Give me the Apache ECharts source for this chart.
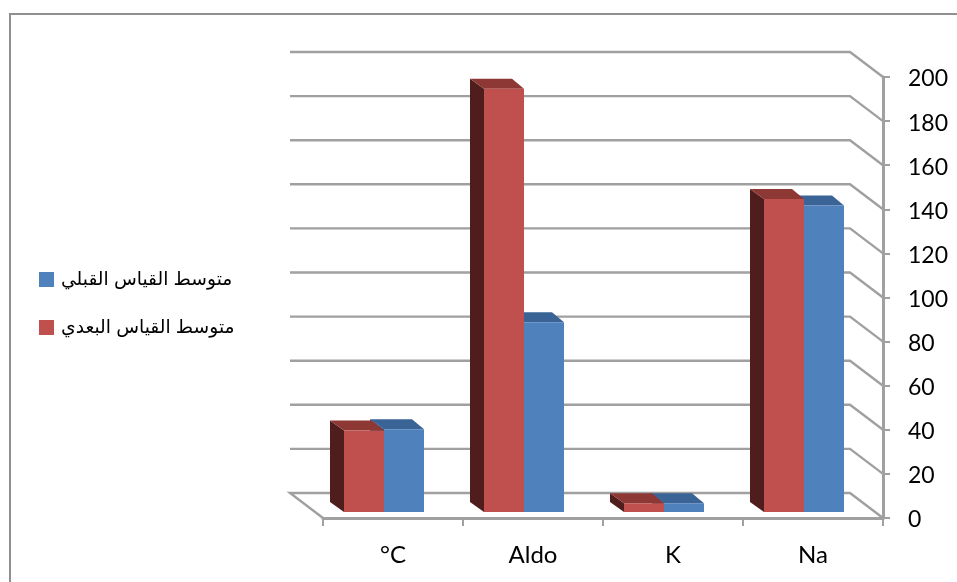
<!DOCTYPE html>
<html>
<head>
<meta charset="utf-8">
<style>
  html, body { margin: 0; padding: 0; background: #fff; }
  #chart { width: 957px; height: 582px; }
</style>
<script src="https://cdn.jsdelivr.net/npm/echarts@6/dist/echarts.min.js"></script>
</head>
<body>
<div id="chart"></div>
<script>
// Measurements per analyte
const categories = ['°C', 'Aldo', 'K', 'Na'];
const preName = 'متوسط القياس القبلي';
const postName = 'متوسط القياس البعدي';
const preValues = [37.5, 86, 4, 139];
const postValues = [37, 192, 4, 142];
const valueTicks = [0, 20, 40, 60, 80, 100, 120, 140, 160, 180, 200];

const GRID_GREY = '#a0a0a0';
const WALL_DX = -33, WALL_DY = -25;     // back wall offset from the front plane
const BAR_INSET_X = -9, BAR_INSET_Y = -6; // bar front face sits slightly behind the axis
const BAR_DX = -14, BAR_DY = -10;       // depth of one bar
const BAR_BAND_RATIO = 40 / 140;

// Gridline wrapping from the value axis across the back wall
function renderWall(params, api) {
  const cs = params.coordSys;
  const v = api.value(1);
  const y = api.coord([0, v])[1];
  const right = cs.x + cs.width;
  const left = cs.x + WALL_DX;
  const pts = [[right, y], [right + WALL_DX, y + WALL_DY], [left, y + WALL_DY]];
  if (v === 0) pts.push([cs.x, y]);
  return {
    type: 'polyline',
    shape: { points: pts },
    style: { stroke: GRID_GREY, lineWidth: 2.4, fill: 'none' }
  };
}

// Box-shaped column: side, top and front faces; slot places it left of or at the band centre
function boxRenderer(slot, front, top, side) {
  return function (params, api) {
    const i = api.value(0);
    const top0 = api.coord([i, api.value(1)]);
    const base = api.coord([i, 0]);
    const w = api.size([1, 0])[0] * BAR_BAND_RATIO;
    const x0 = top0[0] + BAR_INSET_X + slot * w;
    const x1 = x0 + w;
    const yT = top0[1] + BAR_INSET_Y;
    const yB = base[1] + BAR_INSET_Y;
    const poly = (points, fill) => ({
      type: 'polygon',
      shape: { points },
      style: { fill, stroke: null }
    });
    return {
      type: 'group',
      children: [
        poly([[x0, yB], [x0 + BAR_DX, yB + BAR_DY], [x0 + BAR_DX, yT + BAR_DY], [x0, yT]], side),
        poly([[x0, yT], [x1, yT], [x1 + BAR_DX + 2, yT + BAR_DY], [x0 + BAR_DX, yT + BAR_DY]], top),
        poly([[x0, yT], [x1, yT], [x1, yB], [x0, yB]], front)
      ]
    };
  };
}

const chart = echarts.init(document.getElementById('chart'), null, { renderer: 'canvas' });
chart.setOption({
  animation: false,
  backgroundColor: '#ffffff',
  graphic: [{
    type: 'polyline',
    silent: true,
    shape: { points: [[10, 590], [10, 14], [970, 14]] },
    style: { stroke: '#8f8f8f', lineWidth: 2, fill: 'none' }
  }],
  grid: { left: 323, top: 77, width: 560, height: 441 },
  legend: {
    orient: 'vertical',
    left: 34,
    top: 265,
    itemWidth: 15,
    itemHeight: 15,
    itemGap: 29,
    icon: 'rect',
    data: [preName, postName],
    textStyle: {
      fontFamily: '"Liberation Sans", "DejaVu Sans", sans-serif',
      fontSize: 18.7,
      color: '#000',
      padding: [0, 0, 8, 2]
    }
  },
  xAxis: {
    type: 'category',
    data: categories,
    boundaryGap: true,
    axisLine: { lineStyle: { color: GRID_GREY, width: 3 } },
    axisTick: { show: true, length: 8, lineStyle: { color: GRID_GREY, width: 2 } },
    axisLabel: { fontFamily: 'Lato', fontSize: 24, color: '#000', margin: 25 },
    splitLine: { show: false }
  },
  yAxis: {
    type: 'value',
    position: 'right',
    min: 0,
    max: 200,
    interval: 20,
    axisLine: { show: true, lineStyle: { color: GRID_GREY, width: 3 } },
    axisTick: { show: true, length: 7, lineStyle: { color: GRID_GREY, width: 2 } },
    axisLabel: {
      margin: 25,
      formatter: '{v|{value}}',
      rich: { v: { fontFamily: 'Lato', fontSize: 23, color: '#000', padding: [4, 0, 0, 0] } }
    },
    splitLine: { show: false }
  },
  series: [
    {
      type: 'custom',
      name: 'wall',
      silent: true,
      clip: false,
      z: 1,
      renderItem: renderWall,
      data: valueTicks.map(t => [0, t])
    },
    {
      type: 'custom',
      name: preName,
      clip: false,
      z: 2,
      itemStyle: { color: '#4F81BD' },
      renderItem: boxRenderer(0, '#4F81BD', '#3A6396', '#2C4A70'),
      data: preValues.map((v, i) => [i, v])
    },
    {
      type: 'custom',
      name: postName,
      clip: false,
      z: 3,
      itemStyle: { color: '#C0504D' },
      renderItem: boxRenderer(-1, '#C0504D', '#8E3836', '#4F1D1C'),
      data: postValues.map((v, i) => [i, v])
    }
  ]
});
</script>
</body>
</html>
